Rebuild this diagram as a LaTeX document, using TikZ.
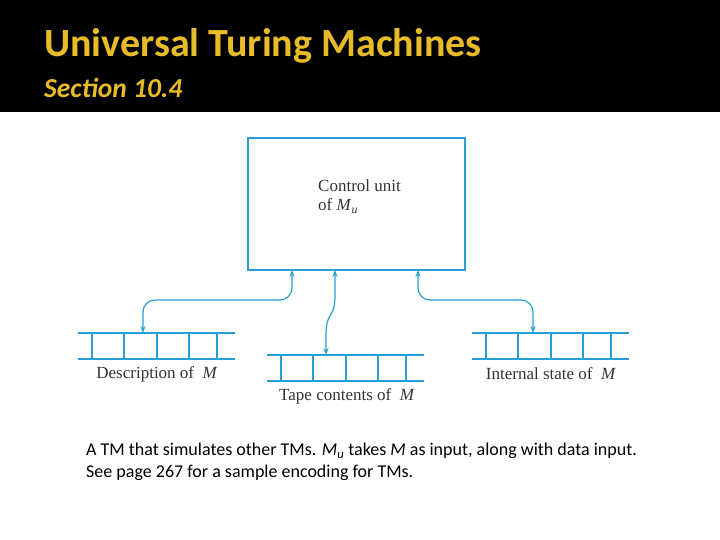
\documentclass[tikz,border=0pt]{standalone}
\usepackage{fontspec}
\setmainfont{Carlito}
\newfontfamily\serifd{Liberation Serif}
\usetikzlibrary{arrows.meta}
\definecolor{tmblue}{RGB}{40,160,210}
\definecolor{hdrgold}{RGB}{232,188,40}
\tikzset{x=1pt,y=-1pt,
  tapeline/.style={draw=tmblue,line width=1.1pt},
  conn/.style={draw=tmblue,line width=1.2pt},
  lbl/.style={font=\serifd\fontsize{17}{19}\selectfont,text=black!80,inner sep=0pt}}
\begin{document}
\begin{tikzpicture}
\useasboundingbox (0,0) rectangle (720,540);
\fill[black] (0,0) rectangle (720,112);
\node[anchor=west,text=hdrgold,font=\bfseries\fontsize{40}{44}\selectfont,inner sep=0pt] (title) at (44,46) {Universal Turing Machines};
\node[anchor=west,text=hdrgold,font=\bfseries\itshape\fontsize{27.5}{30}\selectfont,inner sep=0pt] (sub) at (44,88) {Section 10.4};
% control unit
\draw[tmblue,line width=1.2pt] (248,138) rectangle (465,270);
\node[lbl,anchor=north west,align=left] (cut) at (318,180) {Control unit\\of \textit{M}\textsubscript{\textit{u}}};
% tapes
\foreach \n/\x/\y in {L/78/333,C/267/355,R/472/333}{
  \draw[tapeline] (\x,\y) -- ++(157,0) (\x,\y+26) -- ++(157,0);
  \foreach \d in {14,46,79,111,139}{\draw[tapeline] (\x+\d,\y) -- ++(0,26);}
}
\coordinate (bL) at (292,270); \coordinate (bC) at (335,270); \coordinate (bR) at (418,270);
\coordinate (tL) at (143,333); \coordinate (tC) at (326,355); \coordinate (tR) at (533,333);
\draw[conn,{Stealth[length=7pt,width=5pt]}-{Stealth[length=7pt,width=5pt]}] (bL) -- (292,288) to[out=-90,in=0] (280,300) -- (155,300) to[out=180,in=90] (143,312) -- (tL);
\draw[conn,{Stealth[length=7pt,width=5pt]}-{Stealth[length=7pt,width=5pt]}] (bC) -- (335,295) .. controls (335,320) and (326,310) .. (326,335) -- (tC);
\draw[conn,{Stealth[length=7pt,width=5pt]}-{Stealth[length=7pt,width=5pt]}] (bR) -- (418,288) to[out=-90,in=180] (430,300) -- (521,300) to[out=0,in=90] (533,312) -- (tR);
\node[lbl] (dL) at (157,374) {Description of \ \textit{M}};
\node[lbl] (dC) at (347,396) {Tape contents of \ \textit{M}};
\node[lbl] (dR) at (551,374) {Internal state of \ \textit{M}};
\node[anchor=north west,align=left,font=\fontsize{18}{22}\selectfont,inner sep=0pt] (cap) at (86,443) {A TM that simulates other TMs. \textit{M}\textsubscript{\textit{u}} takes \textit{M} as input, along with data input.\\See page 267 for a sample encoding for TMs.};
\end{tikzpicture}
\end{document}
